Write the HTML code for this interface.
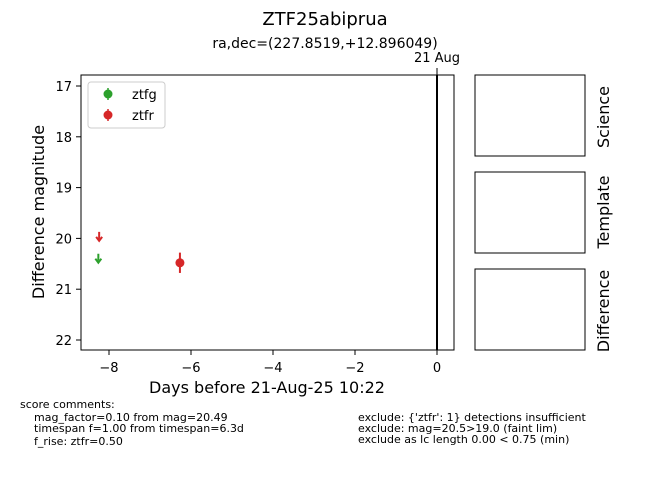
<!DOCTYPE html>
<html><head><meta charset="utf-8"><style>
html,body{margin:0;background:#fff;font-family:"Liberation Sans","DejaVu Sans",sans-serif;overflow:hidden;width:650px;height:500px}
svg{display:block}
</style></head><body>
<svg width="650" height="500" xmlns="http://www.w3.org/2000/svg" font-family="DejaVu Sans, Liberation Sans, sans-serif">
<text x="325" y="25" font-size="18" text-anchor="middle">ZTF25abiprua</text>
<text x="325" y="48" font-size="14" text-anchor="middle">ra,dec=(227.8519,+12.896049)</text>
<text x="437" y="62" font-size="13" text-anchor="middle">21 Aug</text>
<line x1="437" y1="68" x2="437" y2="75" stroke="#000"/>
<g id="plot"></g>
<rect x="81" y="75" width="373" height="275" fill="none" stroke="#000"/>
<text x="267" y="393" font-size="16" text-anchor="middle">Days before 21-Aug-25 10:22</text>
<text transform="translate(44,212) rotate(-90)" font-size="16" text-anchor="middle">Difference magnitude</text>
<g>
<rect x="88" y="82" width="77" height="46" rx="3" fill="#fff" stroke="#ccc"/>
<line x1="108" y1="88" x2="108" y2="100" stroke="#2ca02c" stroke-width="1.5"/>
<circle cx="108" cy="94" r="4.5" fill="#2ca02c"/>
<text x="132" y="99" font-size="13">ztfg</text>
<line x1="108" y1="109" x2="108" y2="121" stroke="#d62728" stroke-width="1.5"/>
<circle cx="108" cy="115" r="4.5" fill="#d62728"/>
<text x="132" y="120" font-size="13">ztfr</text>
</g>
<rect x="475" y="75" width="110" height="81" fill="none" stroke="#000"/>
<rect x="475" y="172" width="110" height="81" fill="none" stroke="#000"/>
<rect x="475" y="269" width="110" height="81" fill="none" stroke="#000"/>
<text transform="translate(609,117) rotate(-90)" font-size="16" text-anchor="middle">Science</text>
<text transform="translate(609,212) rotate(-90)" font-size="16" text-anchor="middle">Template</text>
<text transform="translate(609,311) rotate(-90)" font-size="16" text-anchor="middle">Difference</text>
<g font-size="11">
<text x="20" y="408">score comments:</text>
<text x="34" y="421">mag_factor=0.10 from mag=20.49</text>
<text x="34" y="432">timespan f=1.00 from timespan=6.3d</text>
<text x="34" y="445">f_rise: ztfr=0.50</text>
<text x="358" y="421">exclude: {'ztfr': 1} detections insufficient</text>
<text x="358" y="432">exclude: mag=20.5&gt;19.0 (faint lim)</text>
<text x="358" y="443">exclude as lc length 0.00 &lt; 0.75 (min)</text>
</g>
</svg>
<script>
const xTicks=[-8,-6,-4,-2,0];
const yTicks=[17,18,19,20,21,22];
const detDays=[-6.27];
const detMags=[20.48];
const detErrs=[0.2];
const limDays=[-8.24,-8.26];
const limMags=[19.95,20.38];
const limBands=["ztfr","ztfg"];
const colors={ztfr:"#d62728",ztfg:"#2ca02c"};
const xs=d=>437+d*41;
const ys=m=>86+(m-17)*50.8;
const NS="http://www.w3.org/2000/svg";
const g=document.getElementById('plot');
function mk(t,a){const e=document.createElementNS(NS,t);for(const k in a)e.setAttribute(k,a[k]);g.appendChild(e);return e;}
xTicks.forEach(v=>{
 const l=mk('line',{x1:xs(v),x2:xs(v),y1:350,y2:355,stroke:'#000'});
 
 
 const t=mk('text',{x:xs(v),y:372,'font-size':13,'text-anchor':'middle'});
 t.textContent=v<0?'\u2212'+(-v):v;
 
 
});
yTicks.forEach(v=>{
 const l=mk('line',{x1:76,x2:81,y1:ys(v),y2:ys(v),stroke:'#000'});
 
 
 const t=mk('text',{x:72,y:ys(v)+5,'font-size':13,'text-anchor':'end'});
 t.textContent=v;
 
 
});
const vl=mk('line',{x1:xs(0),x2:xs(0),y1:75,y2:350,stroke:'#000','stroke-width':2});


limDays.forEach((d,i)=>{
 const c=colors[limBands[i]],x=xs(d),y=ys(limMags[i]);
 const a=mk('path',{d:`M${x} ${y-4}V${y+3}M${x-3} ${y+1}L${x} ${y+5}L${x+3} ${y+1}`,stroke:c,'stroke-width':2,fill:'none'});
 
 
});
detDays.forEach((d,i)=>{
 const x=xs(d);
 const e=mk('line',{x1:x,x2:x,y1:ys(detMags[i]-detErrs[i]),y2:ys(detMags[i]+detErrs[i]),stroke:colors.ztfr,'stroke-width':2});
 
 
 const c=mk('circle',{cx:x,cy:ys(detMags[i]),r:4.5,fill:colors.ztfr});
 
 
});
</script>
</body></html>
